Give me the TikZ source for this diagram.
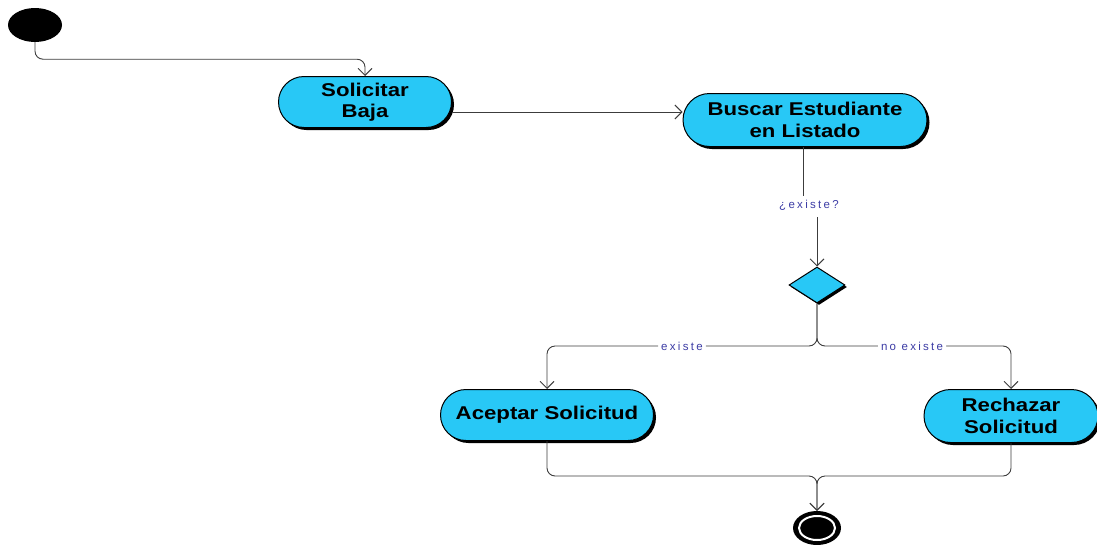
\documentclass[tikz,border=0pt]{standalone}
\usepackage{fontspec}
\setmainfont{Liberation Sans}
\newfontfamily\actfont[FakeStretch=1.2]{Liberation Sans}
\newfontfamily\lblfont[LetterSpace=20]{Liberation Sans}
\usetikzlibrary{shapes.misc,shapes.geometric,arrows.meta,shadows}
\definecolor{actcyan}{RGB}{40,200,246}
\definecolor{lblblue}{RGB}{60,60,165}
\definecolor{conncol}{RGB}{60,60,60}
\tikzset{
  action/.style={rounded rectangle, draw=black, line width=1pt, fill=actcyan,
    minimum width=175pt, minimum height=51pt, inner sep=1pt, align=center,
    font=\actfont\fontsize{18.5}{21.5}\selectfont\bfseries,
    drop shadow={shadow xshift=2.5pt, shadow yshift=-2.5pt, fill=black, opacity=1}},
  conn/.style={draw=conncol, line width=0.9pt, rounded corners=8pt},
  arr/.style={conn, -{Straight Barb[length=7pt,width=14pt,line width=0.9pt]}},
  lbl/.style={font=\lblfont\fontsize{11.5}{13}\selectfont, text=lblblue, fill=white, inner sep=3pt},
}
\begin{document}
\begin{tikzpicture}[x=1pt,y=-1pt]
\useasboundingbox (0,0) rectangle (1097,544);
% start
\node[ellipse, fill=black, minimum width=54pt, minimum height=34pt, inner sep=0] (start) at (35,25) {};
% actions
\node[action] (sol) at (365,102) {Solicitar\\Baja};
\node[action, minimum width=246pt, minimum height=53pt] (bus) at (805,120) {Buscar Estudiante\\en Listado};
\node[diamond, draw=black, line width=1pt, fill=actcyan, minimum width=56pt, minimum height=36pt, inner sep=0,
  drop shadow={shadow xshift=2pt, shadow yshift=-2pt, fill=black, opacity=1}] (dec) at (817,285) {};
\node[action, minimum width=215pt] (acc) at (547,415) {Aceptar Solicitud};
\node[action, minimum width=176pt, minimum height=53pt] (rec) at (1011,416) {Rechazar\\Solicitud};
% end
\node[ellipse, fill=black, minimum width=48pt, minimum height=34pt, inner sep=0] (endn) at (817,528) {};
\node[ellipse, draw=white, line width=2pt, fill=black, minimum width=36pt, minimum height=24pt, inner sep=0] (endin) at (endn) {};
% coordinates
\coordinate (q1) at (803,196);
\coordinate (q2) at (817,217);
\coordinate (sp) at (817,346);
\coordinate (mg) at (817,476);
% connectors
\draw[arr] (start.south) -- ++(0,17) -| (sol.north);
\draw[arr] (sol.east |- 0,112) -- (bus.west |- 0,112);
\draw[conn] (bus.south -| q1) -- (q1);
\node[lbl, fill=none] (qlbl) at (809,205) {¿existe?};
\draw[arr] (q2) -- (dec.north);
\draw[arr] (dec.south) -- (sp) -| node[lbl, pos=0.25] (lex) {existe} (acc.north);
\draw[arr] (dec.south) -- (sp) -| node[lbl, pos=0.245] (lnex) {no existe} (rec.north);
\draw[arr] (acc.south) |- (mg) -- (endn.north);
\draw[arr] (rec.south) |- (mg) -- (endn.north);
\end{tikzpicture}
\end{document}
